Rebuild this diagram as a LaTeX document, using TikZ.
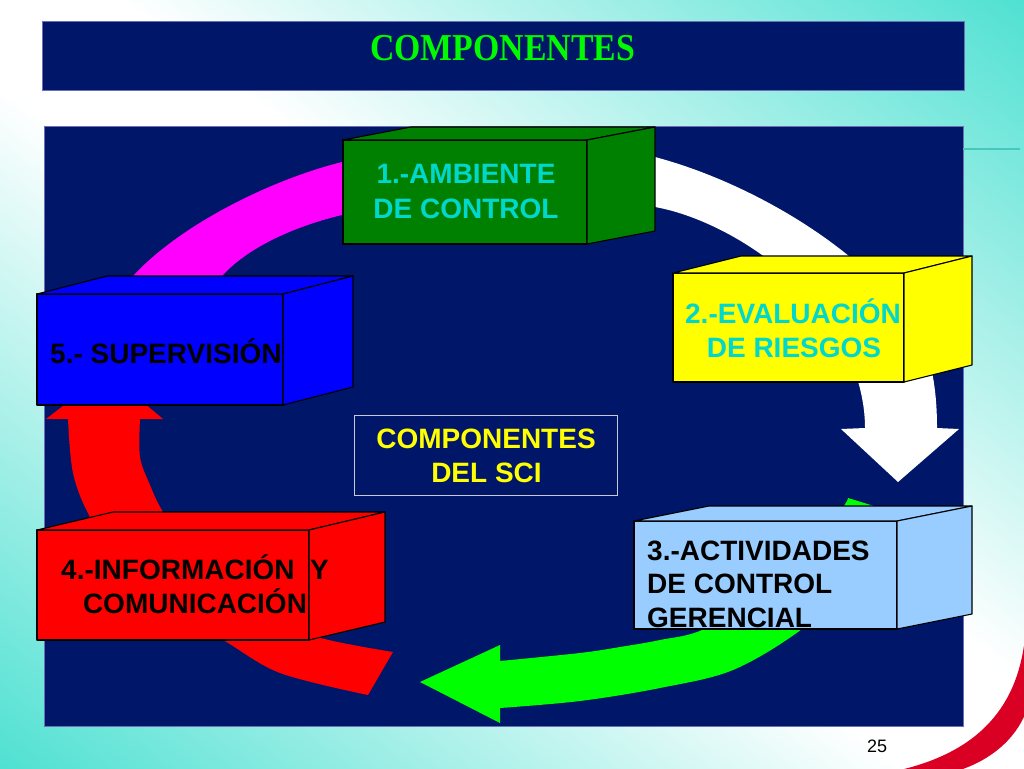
\documentclass[tikz,border=0pt]{standalone}
\usepackage{fontspec}
\usepackage{graphicx}
\setmainfont{Liberation Sans}
\newfontfamily\titlefont{Liberation Serif}
\usetikzlibrary{calc}
\definecolor{navy}{RGB}{0,22,104}
\definecolor{turq}{RGB}{40,218,200}
\definecolor{boxgreen}{RGB}{0,128,0}
\definecolor{boxyellow}{RGB}{255,255,0}
\definecolor{boxblue}{RGB}{0,0,255}
\definecolor{boxred}{RGB}{255,0,0}
\definecolor{boxlight}{RGB}{153,204,255}
\definecolor{txtturq}{RGB}{0,215,205}
\definecolor{arrgreen}{RGB}{0,255,0}
\definecolor{arrmag}{RGB}{255,0,255}
\definecolor{swoosh}{RGB}{218,0,36}
\definecolor{edgeblue}{RGB}{110,110,180}
\definecolor{titlegreen}{RGB}{0,250,0}
\definecolor{tealline}{RGB}{70,200,190}
\definecolor{sciedge}{RGB}{200,200,215}
\pgfdeclareverticalshading{bgshade}{100bp}{color(0bp)=(turq); color(8bp)=(turq); color(46bp)=(white); color(54bp)=(white); color(92bp)=(turq); color(100bp)=(turq)}
\newcommand\cubebox[8]{%
  \node[frontface, fill=#8, minimum width=#4pt, minimum height=#5pt] (#1) at (#2,#3) {};
  \filldraw[face, fill=#8] (#1.north west) -- ++(#6,#7) -- ($(#1.north east)+(#6,#7)$) -- (#1.north east) -- cycle;
  \filldraw[face, fill=#8] (#1.north east) -- ++(#6,#7) -- ($(#1.south east)+(#6,#7)$) -- (#1.south east) -- cycle;
}
\begin{document}
\begin{tikzpicture}[x=1pt,y=-1pt,
  face/.style={draw=black, line width=1.1pt, line join=round},
  frontface/.style={face, inner sep=0pt, outer sep=0pt, anchor=north west},
  panelbox/.style={fill=navy, draw=edgeblue, line width=0.8pt, inner sep=0pt, outer sep=0pt, anchor=north west},
  boxtext/.style={font=\bfseries\fontsize{28}{32}\selectfont, inner sep=0pt},
  band/.style={smooth, tension=0.55}]
\useasboundingbox (0,0) rectangle (1024,768);
\clip (0,0) rectangle (1024,768);
% background
\fill[shading=bgshade, shading angle=-37] (0,0) rectangle (1024,768);
% banner and panel
\node[panelbox, minimum width=922pt, minimum height=69pt] (banner) at (42,21) {};
\node[anchor=base, inner sep=0pt, text=titlegreen, font=\titlefont\bfseries\fontsize{38}{40}\selectfont] (title) at (502.5,60) {\scalebox{0.89}[1]{COMPONENTES}};
\node[panelbox, minimum width=919pt, minimum height=600pt] (panel) at (44,126) {};
\coordinate (tlend) at (1020,149);
\draw[tealline, line width=1.4pt] (panel.east |- tlend) -- (tlend);
% red swoosh
\fill[swoosh] (1026,625) .. controls (1022,700) and (985,750) .. (900,770)
  -- (960,770) .. controls (990,760) and (1015,740) .. (1026,712) -- cycle;
% magenta band
\fill[arrmag] (365,157) -- (342,162) .. controls (270,180) and (180,225) .. (133,276) -- (115,305)
  -- (205,300) -- (222,276) .. controls (250,245) and (300,225) .. (342,215) -- (365,211) -- cycle;
% white arrow
\fill[white] (640,152) -- (655,157) .. controls (760,185) and (880,260) .. (922,340)
  .. controls (933,365) and (937,395) .. (937,428)
  -- (959,429) -- (898,482) -- (841,429) -- (865,428)
  .. controls (865,390) and (850,340) .. (805,292) .. controls (760,245) and (700,215) .. (655,207) -- (640,202) -- cycle;
% green arrow
\fill[arrgreen] (848,498) -- plot[band] coordinates {(900,514) (860,575) (802,629) (733,670) (660,688) (580,701) (500,708)}
  -- (500,723) -- (420,682) -- (500,645)
  -- plot[band] coordinates {(500,661) (580,653) (620,647) (660,640) (704,629) (760,590) (810,550) (843,507) (848,498)} -- cycle;
% red arrow
\fill[boxred] (46,419) -- (107,372) -- (163,419)
  -- plot[band] coordinates {(140,419) (140,457) (150,485) (163,512) (200,570) (250,610) (317,637) (393,652)}
  -- plot[band] coordinates {(368,695) (280,673) (223,640) (170,612) (130,580) (90,517) (73,473) (68,419)} -- cycle;
% boxes
\cubebox{b1}{343}{140}{244}{104}{68}{-13}{boxgreen}
\cubebox{b2}{673}{273}{231}{109}{68}{-17}{boxyellow}
\cubebox{b5}{37}{294}{246}{111}{70}{-18}{boxblue}
\cubebox{b4}{37}{530}{272}{110}{76}{-18}{boxred}
\cubebox{b3}{634}{521}{263}{108}{75}{-15}{boxlight}
% centre box
\node[draw=sciedge, line width=1pt, minimum width=263pt, minimum height=80pt, inner sep=0pt] (sci) at (485.5,455) {};
% texts
\node[boxtext, text=txtturq, anchor=base] (t1a) at (466,183) {1.-AMBIENTE};
\node[boxtext, text=txtturq, anchor=base] (t1b) at (466,218) {DE CONTROL};
\node[boxtext, text=txtturq, anchor=base] (t2a) at (793,323) {2.-EVALUACIÓN};
\node[boxtext, text=txtturq, anchor=base] (t2b) at (794,357) {DE RIESGOS};
\node[boxtext, anchor=base west] (t5) at (50,363) {5.- SUPERVISIÓN};
\node[boxtext, anchor=base] (t4a) at (195,579) {4.-INFORMACIÓN\ \ Y};
\node[boxtext, anchor=base] (t4b) at (195,613) {COMUNICACIÓN};
\node[boxtext, anchor=base west] (t3a) at (647,560) {3.-ACTIVIDADES};
\node[boxtext, anchor=base west] (t3b) at (647,593) {DE CONTROL};
\node[boxtext, anchor=base west] (t3c) at (647,627) {GERENCIAL};
\node[boxtext, text=boxyellow, anchor=base] (tca) at (486,448) {COMPONENTES};
\node[boxtext, text=boxyellow, anchor=base] (tcb) at (486.5,482) {DEL SCI};
\node[anchor=base, inner sep=0pt, font=\fontsize{18}{20}\selectfont] (pg) at (877,752) {25};
\end{tikzpicture}
\end{document}
